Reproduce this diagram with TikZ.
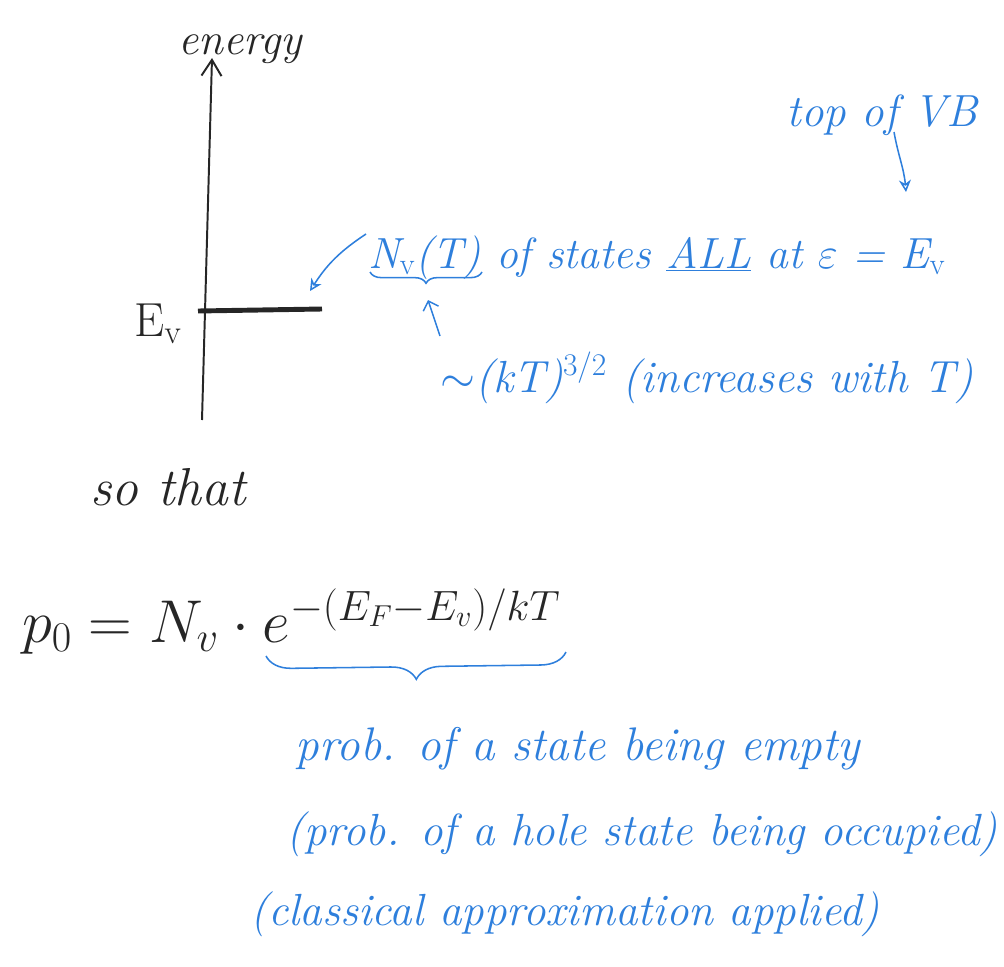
\RequirePackage{fix-cm}
\documentclass[tikz,border=0pt]{standalone}
\usepackage{fontspec}
\usepackage{xcolor}
\usetikzlibrary{positioning,arrows.meta,calc,decorations.pathreplacing}
\definecolor{inkblue}{HTML}{2E7FDC}
\definecolor{inkblack}{HTML}{262626}

\begin{document}
\begin{tikzpicture}[x=0.025cm, y=-0.025cm,
    hand/.style={inner sep=0pt, anchor=base, text=inkblack, font=\fontsize{32}{38}\selectfont\itshape},
    note/.style={hand, text=inkblue},
    axis/.style={-{Straight Barb[length=4mm, width=5mm]}, line width=1.4pt, draw=inkblack},
    pointer/.style={-{Stealth[open, length=3mm, width=3mm]}, line width=1.1pt, draw=inkblue},
    curly/.style={decorate, decoration={brace, mirror, amplitude=#1}, line width=1.1pt, draw=inkblue}
]
    \useasboundingbox (0,0) rectangle (1004,966);

    % energy axis
    \coordinate (axis_bot) at (202,420);
    \coordinate (axis_top) at (212,58);
    \draw[axis] (axis_bot) -- (axis_top);
    \node[hand] (energy) at (240,55) {energy};

    % valence band edge
    \coordinate (ev_left) at (198,311);
    \coordinate (ev_right) at (322,309);
    \draw[inkblack, line width=3.5pt] (ev_left) -- (ev_right);
    \node[hand, font=\fontsize{34}{40}\selectfont] (ev_label) at (158,336) {E$_{\mathrm{v}}$};

    % density of states annotation
    \node[note] (top_vb) at (882,126) {top of VB};
    \node[note, anchor=base west, font=\fontsize{31}{37}\selectfont\itshape] (nv) at (368,268) {N$_{\mathrm{v}}$(T) of states \underline{ALL} at $\varepsilon$ = E$_{\mathrm{v}}$};
    \coordinate (nv_start) at (366,234);
    \coordinate (ev_tip) at (310,291);
    \draw[pointer] (nv_start) to[bend right=12] (ev_tip);
    \coordinate (vb_from) at (894,132);
    \coordinate (vb_to) at (906,192);
    \draw[pointer] (vb_from) to[out=-80, in=95] (vb_to);
    \coordinate (br_left) at (370,272);
    \coordinate (br_right) at (482,272);
    \draw[curly=8pt] (br_left) -- (br_right);
    \node[note, anchor=base west] (kt) at (440,392) {$\sim$(kT)$^{3/2}$ (increases with T)};
    \coordinate (kt_tail) at (440,336);
    \coordinate (kt_head) at (428,300);
    \draw[pointer, -{Straight Barb[length=2mm]}] (kt_tail) -- (kt_head);

    % hole concentration
    \node[hand, font=\fontsize{38}{44}\selectfont\itshape] (so_that) at (168,505) {so that};
    \node[hand, anchor=base west, font=\fontsize{43}{50}\selectfont] (p0) at (22,642) {$p_0 = N_v \cdot e^{-(E_F - E_v)/kT}$};
    \coordinate (exp_left) at (266,656);
    \coordinate (exp_right) at (566,652);
    \draw[curly=18pt] (exp_left) -- (exp_right);

    % meaning of the exponential
    \node[note, font=\fontsize{33.5}{40}\selectfont\itshape] (prob) at (578,760) {prob. of a state being empty};
    \node[note] (hole) at (642,845) {(prob. of a hole state being occupied)};
    \node[note] (classic) at (565,925) {(classical approximation applied)};
\end{tikzpicture}
\end{document}
